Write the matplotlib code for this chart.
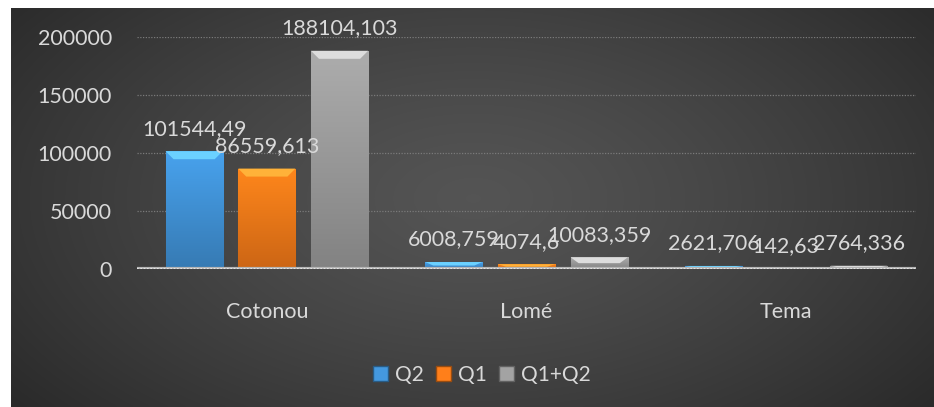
import numpy as np
import matplotlib.pyplot as plt
from matplotlib.patches import Patch, Polygon
import matplotlib.colors as mcolors

plt.rcParams["font.family"] = ["Lato", "DejaVu Sans"]

# data
cities = ["Cotonou", "Lomé", "Tema"]
series = ["Q2", "Q1", "Q1+Q2"]
q2 = [101544.49, 6008.759, 2621.706]
q1 = [86559.613, 4074.6, 142.63]
q1_q2 = [188104.103, 10083.359, 2764.336]
yticks = [0, 50000, 100000, 150000, 200000]

COLORS = ["#4499e0", "#ff7f1a", "#a3a3a3"]
TEXT = "#d9d9d9"
FS = 15.5
W, H = 934, 407

fig = plt.figure(figsize=(W / 100, H / 100), dpi=100, facecolor="white")

# dark panel with radial gradient
bg = fig.add_axes([11 / W, 0, 1 - 11 / W, (H - 8) / H])
bg.set_axis_off()
yy, xx = np.mgrid[0:200, 0:460]
r = np.sqrt(((xx - 230) / 300.0) ** 2 + ((yy - 95) / 170.0) ** 2)
val = 0.33 - 0.17 * np.clip(r, 0, 1) ** 1.3
bg.imshow(np.dstack([val, val, val]), aspect="auto", extent=[0, 1, 0, 1],
          interpolation="bicubic")
bg.set_xlim(0, 1)
bg.set_ylim(0, 1)

ax = fig.add_axes([137 / W, (H - 269) / H, (916 - 137) / W, (269 - 37) / H])
ax.set_facecolor("none")
for s in ax.spines.values():
    s.set_visible(False)

x = np.arange(len(cities))
bw = 0.22
step = 0.28
ax.set_xlim(-0.5, len(cities) - 0.5)
ax.set_ylim(0, 200000)

# gridlines and zero axis
for t in yticks[1:]:
    ax.axhline(t, color="#7a7a7a", lw=0.9, ls=(0, (1, 1.2)), zorder=0)

px_x = 1.0 / 260
px_y = 200000 / 232.0

for i, (name, vals, col) in enumerate(zip(series, [q2, q1, q1_q2], COLORS)):
    pos = x + (i - 1) * step
    base = np.array(mcolors.to_rgb(col))
    bars = ax.bar(pos, vals, bw, color=col, edgecolor=mcolors.to_hex(base * 0.6),
                  lw=0.8, zorder=2)
    grad = np.linspace(0, 1, 100)[:, None]
    top_c = np.clip(base * 1.06, 0, 1)
    bot_c = base * 0.8
    img = top_c[None, None, :] * (1 - grad[..., None]) + bot_c[None, None, :] * grad[..., None]
    light = np.clip(base * 1.2 + 0.1, 0, 1)
    for b, v in zip(bars, vals):
        x0 = b.get_x()
        x1 = x0 + b.get_width()
        im = ax.imshow(img, extent=[x0, x1, 0, v], aspect="auto", zorder=2.1,
                       interpolation="bilinear")
        im.set_clip_path(b)
        bev = min(8 * px_y, v * 0.5)
        bx = min(8 * px_x, b.get_width() / 2)
        ax.add_patch(Polygon([[x0, v], [x1, v], [x1 - bx, v - bev], [x0 + bx, v - bev]],
                             closed=True, fc=light, ec="none", zorder=2.2))
        ax.annotate(str(v).replace(".", ","), (b.get_x() + b.get_width() / 2, v),
                    xytext=(0, 9), textcoords="offset points", ha="center",
                    va="bottom", color=TEXT, fontsize=FS, zorder=5,
                    annotation_clip=False)

ax.axhline(0, color="#b5b5b5", lw=3, zorder=3)
ax.axhline(0, color="#eeeeee", lw=1.2, ls=(0, (1, 1)), zorder=3.1)

ax.set_yticks(yticks)
ax.set_yticklabels([str(t) for t in yticks])
ax.set_xticks(x)
ax.set_xticklabels(cities)
ax.tick_params(axis="y", length=0, pad=18, labelsize=FS, labelcolor=TEXT)
ax.tick_params(axis="x", length=0, pad=24, labelsize=FS, labelcolor=TEXT)

handles = [Patch(facecolor=c, edgecolor=mcolors.to_hex(np.array(mcolors.to_rgb(c)) * 0.6))
           for c in COLORS]
leg = fig.legend(handles, series, loc="center", bbox_to_anchor=(482 / W, (H - 375) / H),
                 ncol=3, frameon=False, fontsize=FS - 0.5, labelcolor=TEXT,
                 handlelength=0.7, handleheight=0.7, handletextpad=0.35,
                 columnspacing=0.6)

fig.savefig("out.png", dpi=100, facecolor="white")
